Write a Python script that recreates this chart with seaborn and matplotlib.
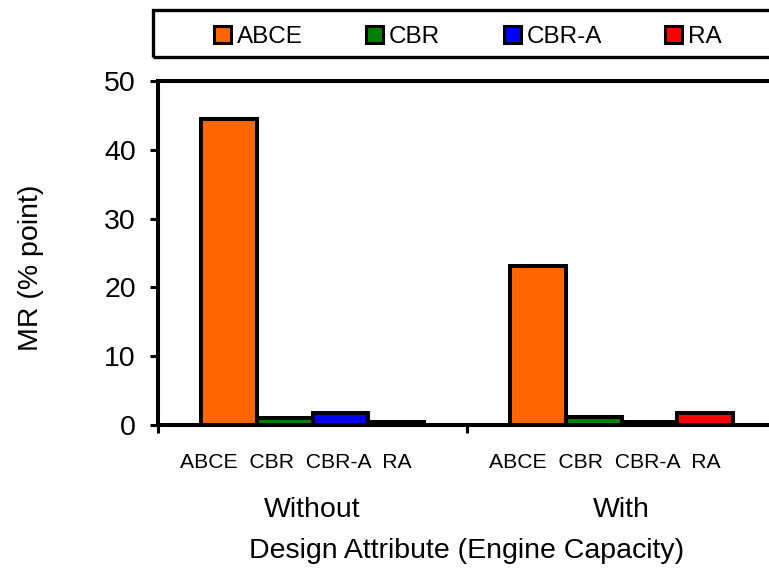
import matplotlib
matplotlib.use("Agg")
import matplotlib.pyplot as plt
import matplotlib.patches as mpatches
import matplotlib.transforms as mtrans
import seaborn as sns
import pandas as pd

# ---- data ----
groups = ["Without", "With"]
methods = ["ABCE", "CBR", "CBR-A", "RA"]
mr_without = [44.5, 1.0, 1.75, 0.5]
mr_with = [23.1, 1.2, 0.5, 1.75]
colors = ["#FF6600", "#008000", "#0000FF", "#FF0000"]
y_ticks = [0, 10, 20, 30, 40, 50]
x_title = "Design Attribute (Engine Capacity)"
y_title = "MR (% point)"

rows = []
for g, vals in zip(groups, [mr_without, mr_with]):
    for m, v in zip(methods, vals):
        rows.append({"group": g, "method": m, "MR": v})
df = pd.DataFrame(rows)

sns.set_style("white")
plt.rcParams["font.family"] = ["Liberation Sans", "DejaVu Sans"]
for k in ["text.color", "axes.labelcolor", "xtick.color", "ytick.color"]:
    plt.rcParams[k] = "black"

fig = plt.figure(figsize=(7.69, 5.71), dpi=100)
ax = fig.add_axes([158 / 769, 146 / 571, 618 / 769, 344 / 571])

sns.barplot(data=df, x="group", y="MR", hue="method", order=groups,
            hue_order=methods, palette=colors, width=0.723, gap=0,
            edgecolor="black", linewidth=2.9, saturation=1, legend=False,
            ax=ax, errorbar=None)

ax.set_xlim(-0.5, 1.5)
ax.set_ylim(0, 50)
ax.set_yticks(y_ticks)
ax.tick_params(axis="y", labelsize=20.5, length=6, width=2.2, direction="out",
               pad=10, left=True)

# group boundary ticks (no labels)
ax.set_xticks([-0.5, 0.5, 1.5])
ax.set_xticklabels([])
ax.tick_params(axis="x", which="major", length=6, width=2.2, direction="out",
               bottom=True)

for s in ["left", "bottom", "top"]:
    ax.spines[s].set_linewidth(2.9)
    ax.spines[s].set_color("black")
ax.spines["right"].set_visible(False)

# method labels under each group, and group labels
trans = mtrans.blended_transform_factory(ax.transData, ax.transAxes)
shift = mtrans.ScaledTranslation(-17 / 100, 0, fig.dpi_scale_trans)
for i, g in enumerate(groups):
    ax.text(i, (425 - 462) / 344, "  ".join(methods), transform=trans + shift,
            ha="center", va="center", fontsize=15.2)
    ax.text(i, (425 - 510) / 344, g, transform=trans, ha="center", va="center",
            fontsize=20.5)

ax.set_xlabel(x_title, fontsize=20.5)
ax.xaxis.set_label_coords(0.5, (425 - 538) / 344)
ax.set_ylabel(y_title, fontsize=20.5)
ax.yaxis.set_label_coords(-0.185, (425 - 268) / 344)

# legend
handles = [mpatches.Patch(facecolor=c, edgecolor="black", linewidth=2.2, label=m)
           for c, m in zip(colors, methods)]
leg = fig.legend(handles=handles, loc="center left", ncol=4, frameon=False,
                 bbox_to_anchor=(214 / 769, 1 - 37 / 571), fontsize=17.5,
                 handlelength=0.7, handleheight=0.7, handletextpad=0.25,
                 columnspacing=2.6, borderaxespad=0, borderpad=0)
box = mpatches.Rectangle((153 / 769, 1 - 57 / 571), 0.9, 47 / 571,
                         transform=fig.transFigure, fill=False,
                         edgecolor="black", linewidth=2.4)
fig.add_artist(box)

fig.savefig("out.png", dpi=100)
